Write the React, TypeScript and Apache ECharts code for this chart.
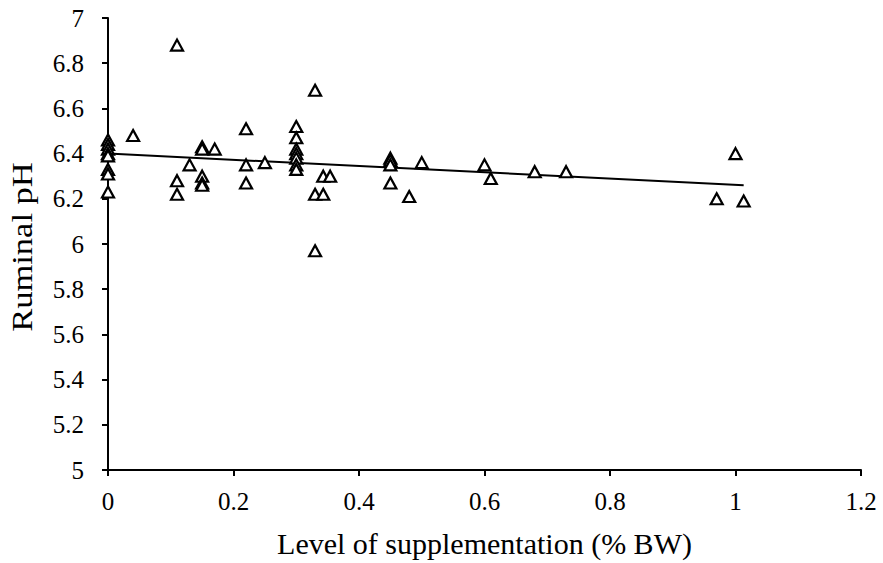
import React, { useEffect, useRef } from "react";
import * as echarts from "echarts";

const supplementLevel: number[] = [
  0, 0, 0, 0, 0, 0, 0, 0,
  0.04,
  0.11, 0.11, 0.11,
  0.13,
  0.15, 0.15, 0.15, 0.15, 0.15,
  0.17,
  0.22, 0.22, 0.22,
  0.25,
  0.3, 0.3, 0.3, 0.3, 0.3, 0.3, 0.3,
  0.33, 0.33, 0.33, 0.343, 0.343, 0.354,
  0.45, 0.45, 0.45, 0.45,
  0.48,
  0.5,
  0.6, 0.61,
  0.68, 0.73,
  0.97, 1.0, 1.013,
];

const ruminalPH: number[] = [
  6.46, 6.44, 6.42, 6.4, 6.39, 6.33, 6.31, 6.23,
  6.48,
  6.88, 6.28, 6.22,
  6.35,
  6.43, 6.42, 6.3, 6.27, 6.26,
  6.42,
  6.51, 6.35, 6.27,
  6.36,
  6.52, 6.47, 6.42, 6.4, 6.38, 6.35, 6.33,
  6.68, 6.22, 5.97, 6.22, 6.3, 6.3,
  6.38, 6.37, 6.35, 6.27,
  6.21,
  6.36,
  6.35, 6.29,
  6.32, 6.32,
  6.2, 6.4, 6.19,
];

const trendX: number[] = [0, 1.013];
const trendY: number[] = [6.4, 6.26];

const xTicks = { min: 0, max: 1.2, interval: 0.2 };
const yTicks = { min: 5, max: 7, interval: 0.2 };

const xTitle = "Level of supplementation (% BW)";
const yTitle = "Ruminal pH";

const FONT = "'Liberation Serif', 'Times New Roman', serif";

export default function App() {
  const ref = useRef<HTMLDivElement>(null);

  useEffect(() => {
    if (!ref.current) return;
    const chart = echarts.init(ref.current, undefined, { renderer: "svg" });
    const points = supplementLevel.map((x, i) => [x, ruminalPH[i]]);
    const trend = trendX.map((x, i) => [x, trendY[i]]);
    const fmt = (v: number) => String(Math.round(v * 10) / 10);
    chart.setOption({
      animation: false,
      backgroundColor: "#ffffff",
      grid: { left: 108, right: 22, top: 18, bottom: 89, containLabel: false },
      graphic: [
        {
          type: "text",
          x: 22,
          y: 247,
          rotation: Math.PI / 2,
          scaleX: 1.15,
          style: {
            text: yTitle,
            fontFamily: FONT,
            fontSize: 30,
            fill: "#000",
            align: "center",
            verticalAlign: "middle",
          },
        },
      ],
      xAxis: {
        type: "value",
        min: xTicks.min,
        max: xTicks.max,
        interval: xTicks.interval,
        name: xTitle,
        nameLocation: "middle",
        nameGap: 58,
        nameTextStyle: { fontFamily: FONT, fontSize: 30, color: "#000" },
        axisLine: { show: true, onZero: false, lineStyle: { color: "#000", width: 2 } },
        axisTick: { show: true, inside: false, length: 6, lineStyle: { color: "#000", width: 2 } },
        axisLabel: {
          fontFamily: FONT,
          fontSize: 25,
          color: "#000",
          margin: 19,
          formatter: fmt,
        },
        splitLine: { show: false },
      },
      yAxis: {
        type: "value",
        min: yTicks.min,
        max: yTicks.max,
        interval: yTicks.interval,
        axisLine: { show: true, onZero: false, lineStyle: { color: "#000", width: 2 } },
        axisTick: { show: true, inside: false, length: 6, lineStyle: { color: "#000", width: 2 } },
        axisLabel: {
          fontFamily: FONT,
          fontSize: 25,
          color: "#000",
          margin: 24,
          formatter: fmt,
        },
        splitLine: { show: false },
      },
      series: [
        {
          type: "line",
          data: trend,
          showSymbol: false,
          symbol: "none",
          lineStyle: { color: "#000", width: 2 },
          z: 2,
        },
        {
          type: "scatter",
          data: points,
          symbol: "triangle",
          symbolSize: [12, 11],
          itemStyle: { color: "#ffffff", borderColor: "#000", borderWidth: 2.2, opacity: 1 },
          z: 3,
        },
      ],
    });
    return () => chart.dispose();
  }, []);

  return (
    <div
      ref={ref}
      style={{ position: "fixed", left: 0, top: 0, width: 883, height: 563, background: "#fff" }}
    />
  );
}
